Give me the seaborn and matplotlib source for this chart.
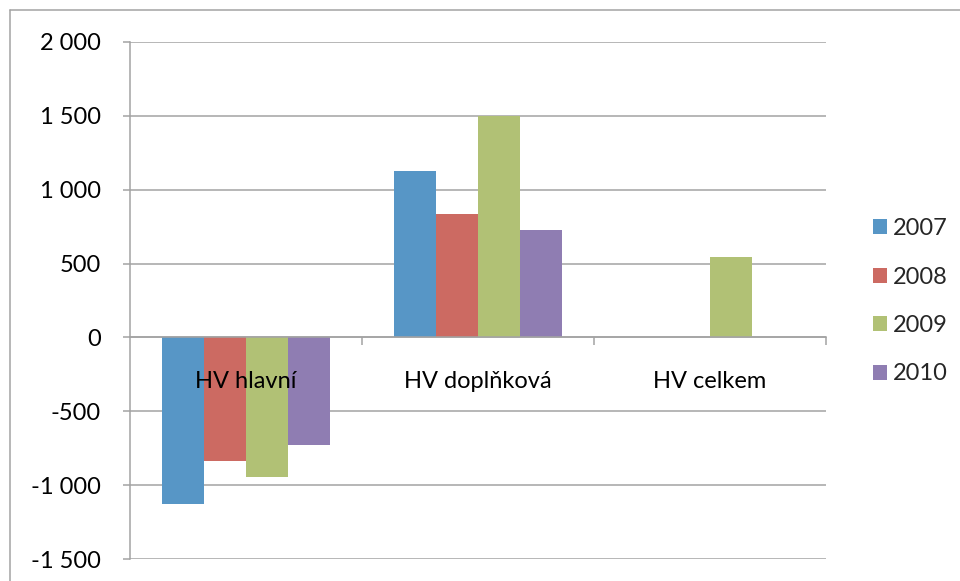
import matplotlib

matplotlib.use("Agg")

import matplotlib.pyplot as plt
import pandas as pd
import seaborn as sns
from matplotlib.lines import Line2D
from matplotlib.ticker import FixedLocator, FuncFormatter

# chart data
categories = ["HV hlavní", "HV doplňková", "HV celkem"]
years = ["2007", "2008", "2009", "2010"]
values_2007 = [-1127, 1128, 0]
values_2008 = [-837, 838, 0]
values_2009 = [-946, 1498, 547]
values_2010 = [-725, 728, 0]
y_ticks = [-1500, -1000, -500, 0, 500, 1000, 1500, 2000]

colors = ["#5796c6", "#cc6a62", "#b1c175", "#8f7db2"]
grid_color = "#a3a3a3"

rows = []
for year, vals in zip(years, [values_2007, values_2008, values_2009, values_2010]):
    for cat, v in zip(categories, vals):
        rows.append({"category": cat, "year": year, "value": v})
df = pd.DataFrame(rows)

sns.set_style("white")
plt.rcParams["font.family"] = ["Lato", "DejaVu Sans"]
font_size = 17

fig = plt.figure(figsize=(9.6, 5.81), dpi=100)
ax = fig.add_axes([130 / 960, 1 - 559 / 581, 696 / 960, 517 / 581])

sns.barplot(
    data=df,
    x="category",
    y="value",
    hue="year",
    order=categories,
    hue_order=years,
    palette=colors,
    saturation=1,
    width=0.724,
    linewidth=0,
    ax=ax,
)

ax.set_ylim(-1500, 2000)
ax.set_xlim(-0.5, len(categories) - 0.5)
ax.set_xlabel("")
ax.set_ylabel("")

# horizontal gridlines behind the bars
ax.yaxis.set_major_locator(FixedLocator(y_ticks))
ax.yaxis.set_major_formatter(
    FuncFormatter(lambda v, _: f"{v:,.0f}".replace(",", " "))
)
ax.grid(axis="y", color=grid_color, linewidth=1.1)
ax.grid(axis="x", visible=False)
ax.set_axisbelow(True)

for side in ["top", "right"]:
    ax.spines[side].set_visible(False)
ax.spines["left"].set_color(grid_color)
ax.spines["left"].set_linewidth(1.1)
ax.spines["bottom"].set_position(("data", 0))
ax.spines["bottom"].set_color(grid_color)
ax.spines["bottom"].set_linewidth(1.1)
# zero line and category labels are drawn over the bars
ax.spines["bottom"].set_zorder(3)
ax.xaxis.set_zorder(3)

ax.tick_params(
    axis="y", which="major", left=True, length=5, width=1.1,
    color=grid_color, pad=16, labelsize=font_size, labelcolor="black",
)
ax.set_xticks(range(len(categories)))
ax.set_xticklabels(categories)
ax.tick_params(
    axis="x", which="major", bottom=True, length=0, pad=24,
    labelsize=font_size, labelcolor="black",
)
ax.set_xticks([0.5, 1.5, 2.5], minor=True)
ax.tick_params(
    axis="x", which="minor", bottom=True, length=6, width=1.1,
    color=grid_color, direction="out",
)

handles, labels = ax.get_legend_handles_labels()
ax.legend(
    handles,
    labels,
    loc="upper left",
    bbox_to_anchor=(852 / 960, 1 - 197 / 581),
    bbox_transform=fig.transFigure,
    frameon=False,
    fontsize=font_size,
    handlelength=0.6,
    handleheight=0.6,
    handletextpad=0.25,
    labelspacing=1.16,
)

# outer chart frame (cropped at right and bottom)
fig.add_artist(Line2D([9.5 / 960, 9.5 / 960], [0, 1 - 10 / 581],
                      transform=fig.transFigure, color=grid_color, linewidth=1.1))
fig.add_artist(Line2D([9.5 / 960, 1], [1 - 10 / 581, 1 - 10 / 581],
                      transform=fig.transFigure, color=grid_color, linewidth=1.1))

fig.savefig("out.png", dpi=100)
